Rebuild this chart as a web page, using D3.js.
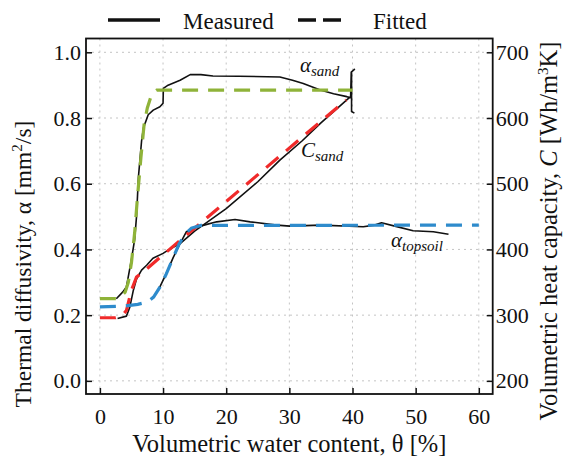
<!DOCTYPE html>
<html><head><meta charset="utf-8">
<script src="https://cdn.jsdelivr.net/npm/d3@7"></script>
<style>body{margin:0;background:#fff}svg{display:block}svg text{font-family:'Liberation Serif','Times New Roman',Times,'DejaVu Serif',serif !important;fill:#111}</style>
</head><body><svg id="c" width="571" height="460" font-family="Liberation Serif"></svg>
<script>
// ---- data ----
const xTicks = [0,10,20,30,40,50,60];
const yLeftTicks = [0.0,0.2,0.4,0.6,0.8,1.0];
const yRightTicks = [200,300,400,500,600,700];
// measured thermal diffusivity, sand [theta %, alpha mm2/s]
const alphaSandMeasured = [[2.6,0.25],[3.6,0.27],[4.2,0.286],[5.0,0.37],[5.5,0.43],[5.8,0.5],[6.1,0.62],[6.6,0.73],[6.9,0.77],[7.65,0.81],[8.45,0.824],[9.5,0.834],[10.0,0.845],[10.05,0.89],[10.8,0.90],[12.7,0.915],[14.3,0.932],[16,0.932],[17.9,0.928],[22,0.927],[28.5,0.925],[30.5,0.915],[32.2,0.905],[34.9,0.885],[37,0.874],[39.1,0.865],[39.7,0.862],[39.8,0.94],[40.3,0.948],[39.85,0.94],[39.85,0.82],[40.3,0.815]];
const alphaSandFitted = [[0,0.25],[3,0.25],[4,0.27],[4.5,0.30],[5,0.36],[5.5,0.45],[6,0.57],[6.5,0.68],[7,0.78],[7.5,0.83],[8,0.86],[8.5,0.878],[9,0.885],[40,0.885]];
// measured / fitted volumetric heat capacity, sand [theta %, C Wh/m3K]
const cSandMeasured = [[2.8,295],[4.2,298.5],[4.75,312.5],[5.3,338],[5.8,355],[6.6,368.5],[7.4,376],[8.4,386.5],[10,394],[10.8,399],[12.7,409],[15,428],[20,462],[25,503],[28.5,536],[32,565],[35,592.5],[39.5,631]];
const cSandFitted = [[0,296],[2.5,296],[3.5,299],[4.2,307],[5,338],[5.8,358],[6.9,366],[9,383.5],[39,627.5]];
// measured / fitted thermal diffusivity, topsoil
const alphaTopMeasured = [[9.2,0.275],[9.5,0.286],[10.6,0.33],[11.6,0.375],[12.7,0.418],[13.7,0.454],[15,0.466],[16.5,0.474],[18.5,0.484],[21.4,0.491],[23.8,0.484],[28,0.474],[30.1,0.471],[35,0.474],[41.7,0.469],[43.5,0.474],[44.6,0.481],[46.7,0.471],[49.6,0.457],[52.8,0.454],[55.2,0.446]];
const alphaTopFitted = [[0,0.225],[4,0.228],[6,0.233],[7.5,0.24],[8.5,0.255],[9.5,0.285],[10.5,0.325],[11.5,0.37],[12.5,0.415],[13.5,0.447],[14.5,0.465],[16,0.473],[60,0.474]];

// ---- layout ----
const FF="'Liberation Serif','Times New Roman',serif";
const L=86, R=492.7, T=38.5, B=394;
const svg=d3.select("#c");
const x=d3.scaleLinear().domain([-2.2,62.2]).range([L,R]);
const yL=d3.scaleLinear().domain([-0.04,1.042]).range([B,T]);
const yR=d3.scaleLinear().domain([180,721]).range([B,T]);

// grid
const g=svg.append("g");
g.selectAll(".gx").data(xTicks).join("line").attr("x1",d=>x(d)).attr("x2",d=>x(d)).attr("y1",T).attr("y2",B)
 .attr("stroke","#c4c4c4").attr("stroke-width",1).attr("stroke-dasharray","2,4");
g.selectAll(".gy").data(yLeftTicks).join("line").attr("y1",d=>yL(d)).attr("y2",d=>yL(d)).attr("x1",L).attr("x2",R)
 .attr("stroke","#c4c4c4").attr("stroke-width",1).attr("stroke-dasharray","2,4");

// axes (ticks inward)
const fs=22, fsT=24.5;
const ax=svg.append("g").attr("transform",`translate(0,${B})`).call(d3.axisBottom(x).tickValues(xTicks).tickSize(-6).tickPadding(14).tickFormat(d3.format("d")));
const ay=svg.append("g").attr("transform",`translate(${L},0)`).call(d3.axisLeft(yL).tickValues(yLeftTicks).tickSize(-6).tickPadding(5).tickFormat(d3.format(".1f")));
const ar=svg.append("g").attr("transform",`translate(${R},0)`).call(d3.axisRight(yR).tickValues(yRightTicks).tickSize(-6).tickPadding(5).tickFormat(d3.format("d")));
[ax,ay,ar].forEach(a=>{a.attr("font-family",FF);a.select(".domain").remove();a.selectAll("line").attr("stroke","#111").attr("stroke-width",1.5);
  a.selectAll("text").attr("font-size",fs).attr("font-family",FF).attr("fill","#111");});
ar.selectAll("text").attr("dx",-2);
// frame
svg.append("rect").attr("x",L).attr("y",T).attr("width",R-L).attr("height",B-T).attr("fill","none").attr("stroke","#111").attr("stroke-width",1.8);

// lines
const lineL=d3.line().x(d=>x(d[0])).y(d=>yL(d[1]));
const lineR=d3.line().x(d=>x(d[0])).y(d=>yR(d[1]));
const meas=(data,gen)=>svg.append("path").datum(data).attr("d",gen).attr("fill","none").attr("stroke","#111").attr("stroke-width",1.6).attr("stroke-linejoin","round");
const fit=(data,gen,c)=>svg.append("path").datum(data).attr("d",gen).attr("fill","none").attr("stroke",c).attr("stroke-width",3.2).attr("stroke-dasharray","16,10");
meas(alphaSandMeasured,lineL);
meas(cSandMeasured,lineR);
meas(alphaTopMeasured,lineL);
fit(alphaSandFitted,lineL,"#8fb339");
fit(cSandFitted,lineR,"#f02a2a");
fit(alphaTopFitted,lineL,"#2e8bcc");

// series labels
function lab(px,py,main,sub){
  const t=svg.append("text").attr("x",px).attr("y",py).attr("font-style","italic").attr("font-family",FF);
  t.append("tspan").text(main).attr("font-size",21);
  t.append("tspan").text(sub).attr("font-size",15).attr("dy",4);
}
lab(300,72,"α","sand");
lab(301,157,"C","sand");
lab(391,247,"α","topsoil");

// axis titles
svg.append("text").attr("x",x(30)).attr("y",452).attr("text-anchor","middle").attr("font-size",fsT).attr("font-family",FF).text("Volumetric water content, θ [%]");
const lt=svg.append("text").attr("transform",`translate(31,264) rotate(-90)`).attr("text-anchor","middle").attr("font-size",fsT-1).attr("font-family",FF);
lt.append("tspan").text("Thermal diffusivity, α [mm");
lt.append("tspan").text("2").attr("font-size",15).attr("dy",-9);
lt.append("tspan").text("/s]").attr("dy",9);
const rt=svg.append("text").attr("transform",`translate(557,231) rotate(-90)`).attr("text-anchor","middle").attr("font-size",fsT).attr("font-family",FF);
rt.append("tspan").text("Volumetric heat capacity, ");
rt.append("tspan").text("C").attr("font-style","italic");
rt.append("tspan").text(" [Wh/m");
rt.append("tspan").text("3").attr("font-size",15).attr("dy",-9);
rt.append("tspan").text("K]").attr("dy",9);

// legend
svg.append("line").attr("x1",108).attr("x2",160).attr("y1",20).attr("y2",20).attr("stroke","#111").attr("stroke-width",3.5);
svg.append("text").attr("x",183).attr("y",29).attr("font-size",23).attr("font-family",FF).text("Measured");
svg.append("line").attr("x1",298).attr("x2",341).attr("y1",20).attr("y2",20).attr("stroke","#111").attr("stroke-width",3.5).attr("stroke-dasharray","18,7");
svg.append("text").attr("x",373).attr("y",29).attr("font-size",23).attr("font-family",FF).text("Fitted");
</script></body></html>
